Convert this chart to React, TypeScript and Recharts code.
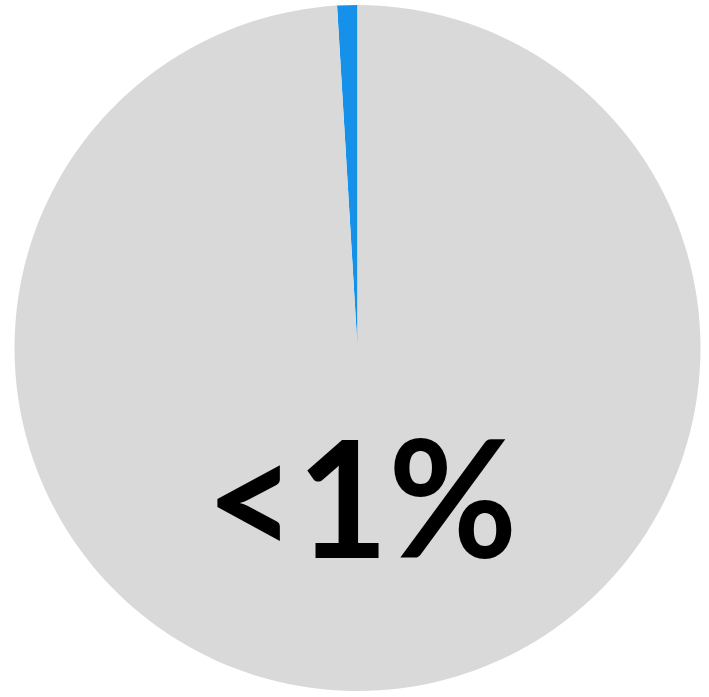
import { PieChart, Pie, Cell, Label } from "recharts";

const segments = ["Share", "Rest"];
const shareValues = [0.95, 99.05];
const sliceColors = ["#1591EA", "#D9D9D9"];
const centerLabel = "<1%";

const chartData = segments.map((name, i) => ({ name, value: shareValues[i] }));

const BigLabel = (props: any) => {
  const vb = props.viewBox || {};
  const cx = vb.cx ?? 357.5;
  const cy = vb.cy ?? 348;
  return (
    <text
      x={cx + 4}
      y={cy + 210}
      textAnchor="middle"
      fill="#000"
      fontFamily="Lato, 'DejaVu Sans', sans-serif"
      fontWeight={700}
      fontSize={162}
      textLength={312}
      lengthAdjust="spacingAndGlyphs"
    >
      {centerLabel}
    </text>
  );
};

export default function App() {
  return (
    <div style={{ position: "absolute", left: 0, top: 0, width: 709, height: 697, background: "#fff" }}>
      <PieChart width={709} height={697} margin={{ top: 0, right: 0, bottom: 0, left: 0 }}>
        <Pie
          data={chartData}
          dataKey="value"
          nameKey="name"
          cx={357.5}
          cy={348}
          outerRadius={343}
          startAngle={90}
          endAngle={450}
          stroke="none"
          isAnimationActive={false}
        >
          {chartData.map((d, i) => (
            <Cell key={d.name} fill={sliceColors[i]} />
          ))}
          <Label position="center" content={<BigLabel />} />
        </Pie>
      </PieChart>
    </div>
  );
}
